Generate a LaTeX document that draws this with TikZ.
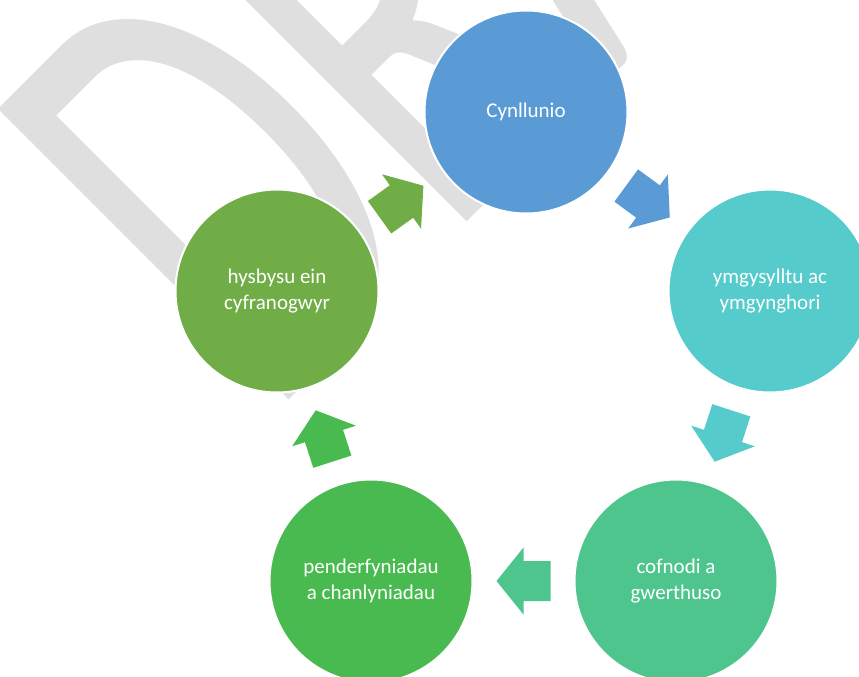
\documentclass[tikz,border=0pt]{standalone}
\usepackage{fontspec}
\setmainfont{Carlito}
\newfontfamily\wmfont{Carlito}
\definecolor{plancol}{HTML}{5B9BD5}
\definecolor{consultcol}{HTML}{55CBCC}
\definecolor{recordcol}{HTML}{4FC58E}
\definecolor{decidecol}{HTML}{48BA4F}
\definecolor{informcol}{HTML}{70AD47}
\definecolor{wmgray}{HTML}{DFDFDF}
\tikzset{
	stage/.style={circle,draw=white,line width=2pt,minimum size=203pt,inner sep=0pt,
		align=center,text=white,font=\fontsize{21}{25.5}\selectfont},
	flowarrow/.pic={
		\fill (-27,-20) -- (0,-20) -- (0,-33.5) -- (27,0) -- (0,33.5) -- (0,20) -- (-27,20) -- cycle;
	}
}
\begin{document}
\begin{tikzpicture}[x=1pt,y=-1pt]
		\clip (0,0) rectangle (859,677);
		\fill[color=white] (0,0) rectangle (859,677);
		% watermark
		\node[rotate=45,yscale=1.57,anchor=base west,inner sep=0pt,text=wmgray,
			font=\wmfont\fontsize{408}{408}\selectfont] (draft) at (269,420) {DRAFT};
		% stages
		\node[stage,fill=plancol] (plan) at (526,112) {Cynllunio};
		\node[stage,fill=consultcol] (consult) at (770,291) {ymgysylltu ac\\ymgynghori};
		\node[stage,fill=recordcol] (record) at (676,581) {cofnodi a\\gwerthuso};
		\node[stage,fill=decidecol] (decide) at (371,581) {penderfyniadau\\a chanlyniadau};
		\node[stage,fill=informcol] (inform) at (277,291) {hysbysu ein\\cyfranogwyr};
		% arrows
		\path (plan) -- pic[pos=0.5,sloped,allow upside down,color=plancol] {flowarrow} (consult);
		\path (consult) -- pic[pos=0.5,sloped,allow upside down,color=consultcol] {flowarrow} (record);
		\path (record) -- pic[pos=0.5,sloped,allow upside down,color=recordcol] {flowarrow} (decide);
		\path (decide) -- pic[pos=0.5,sloped,allow upside down,color=decidecol] {flowarrow} (inform);
		\path (inform) -- pic[pos=0.5,sloped,allow upside down,color=informcol] {flowarrow} (plan);
	\end{tikzpicture}
\end{document}
